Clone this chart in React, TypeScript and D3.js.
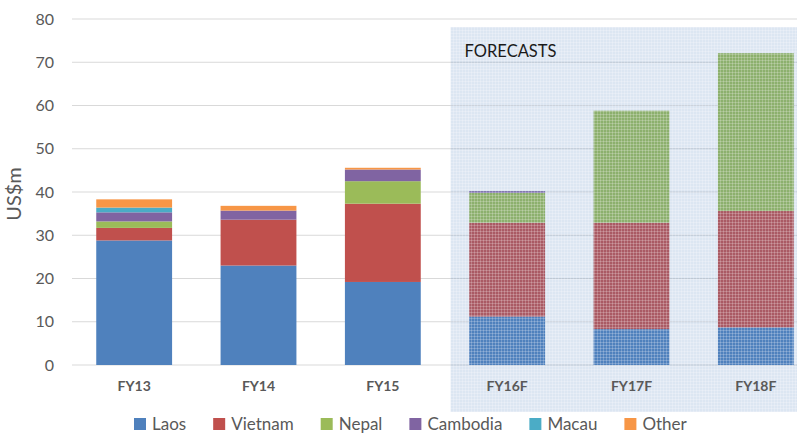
import * as d3 from 'd3';
import { useMemo } from 'react';

const categories = ['FY13', 'FY14', 'FY15', 'FY16F', 'FY17F', 'FY18F'];
const laos = [28.8, 23.0, 19.2, 11.2, 8.3, 8.7];
const vietnam = [2.9, 10.6, 18.1, 21.7, 24.6, 26.9];
const nepal = [1.5, 0, 5.2, 6.9, 25.9, 36.5];
const cambodia = [2.1, 2.1, 2.7, 0.4, 0, 0];
const macau = [1.1, 0, 0, 0, 0, 0];
const other = [1.9, 1.1, 0.4, 0, 0, 0];

const seriesNames = ['Laos', 'Vietnam', 'Nepal', 'Cambodia', 'Macau', 'Other'];
const seriesColors = ['#4f81bd', '#c0504d', '#9bbb59', '#8064a2', '#4bacc6', '#f79646'];
const yTicks = [0, 10, 20, 30, 40, 50, 60, 70, 80];
const forecastFrom = 'FY16F';

const WIDTH = 797;
const HEIGHT = 438;
const MARGIN = { top: 19, right: -21, bottom: 73, left: 72 };
const FONT = 'Lato, "Open Sans", sans-serif';
const TEXT = '#595959';

const measure = (txt: string, size: number) => {
  const ctx = document.createElement('canvas').getContext('2d');
  if (!ctx) return txt.length * size * 0.5;
  ctx.font = `${size}px Lato`;
  return ctx.measureText(txt).width;
};

export default function App() {
  const rows = useMemo(
    () =>
      categories.map((c, i) => ({
        cat: c,
        Laos: laos[i],
        Vietnam: vietnam[i],
        Nepal: nepal[i],
        Cambodia: cambodia[i],
        Macau: macau[i],
        Other: other[i],
      })),
    []
  );

  const stacked = useMemo(() => d3.stack<any>().keys(seriesNames)(rows), [rows]);

  const xScale = d3
    .scaleBand()
    .domain(categories)
    .range([MARGIN.left, WIDTH - MARGIN.right])
    .paddingInner(0.39)
    .paddingOuter(0.195);

  const yScale = d3.scaleLinear().domain([0, 80]).range([HEIGHT - MARGIN.bottom, MARGIN.top]);

  const color = d3.scaleOrdinal<string>().domain(seriesNames).range(seriesColors);

  // shaded forecast box starts a little left of the first forecast bar
  const fcX = (xScale(forecastFrom) ?? 0) - xScale.step() * 0.15;

  // legend layout
  const legendSize = 17;
  const legendItems: { name: string; x: number }[] = [];
  let lx = 0;
  seriesNames.forEach((n) => {
    legendItems.push({ name: n, x: lx });
    lx += 12 + 6 + measure(n, legendSize) + 27;
  });
  const legendStart = 134;

  return (
    <svg
      width={WIDTH}
      height={HEIGHT}
      style={{ position: 'absolute', left: 0, top: 0, background: '#fff' }}
      fontFamily={FONT}
    >
      <defs>
        <pattern id="fc" width="3" height="3" patternUnits="userSpaceOnUse">
          <rect width="3" height="3" fill="rgba(79,129,189,0.2)" />
          <rect width="3" height="0.7" fill="rgba(255,255,255,0.3)" />
          <rect width="0.7" height="3" fill="rgba(255,255,255,0.3)" />
        </pattern>
      </defs>

      {yTicks.map((t) => (
        <g key={t}>
          <line x1={MARGIN.left} x2={WIDTH} y1={yScale(t)} y2={yScale(t)} stroke="#d9d9d9" strokeWidth={1} />
          <text x={54} y={yScale(t)} dy="0.35em" textAnchor="end" fontSize={16} fill={TEXT}>
            {t}
          </text>
        </g>
      ))}

      <text
        transform={`translate(21,${(yScale(0) + yScale(80)) / 2 + 2}) rotate(-90)`}
        textAnchor="middle"
        fontSize={20}
        fill={TEXT}
      >
        US$m
      </text>

      {stacked.map((s) => (
        <g key={s.key} fill={color(s.key)}>
          {s.map((d, i) =>
            d[1] - d[0] > 0 ? (
              <rect
                key={i}
                x={xScale(categories[i])}
                width={xScale.bandwidth()}
                y={yScale(d[1])}
                height={yScale(d[0]) - yScale(d[1])}
              />
            ) : null
          )}
        </g>
      ))}

      <rect x={fcX} y={27} width={WIDTH - fcX} height={412 - 27} fill="url(#fc)" />

      <text x={fcX + 14} y={57} fontSize={16.5} fill="#1a1a1a">
        FORECASTS
      </text>

      {categories.map((c) => (
        <text
          key={c}
          x={(xScale(c) ?? 0) + xScale.bandwidth() / 2}
          y={391}
          textAnchor="middle"
          fontSize={14}
          fontWeight="bold"
          fill={TEXT}
        >
          {c}
        </text>
      ))}

      <g transform={`translate(${legendStart},424)`}>
        {legendItems.map((it) => (
          <g key={it.name} transform={`translate(${it.x},0)`}>
            <rect x={0} y={-6} width={12} height={12} fill={color(it.name)} />
            <text x={18} y={0} dy="0.35em" fontSize={legendSize} fill={TEXT}>
              {it.name}
            </text>
          </g>
        ))}
      </g>
    </svg>
  );
}
